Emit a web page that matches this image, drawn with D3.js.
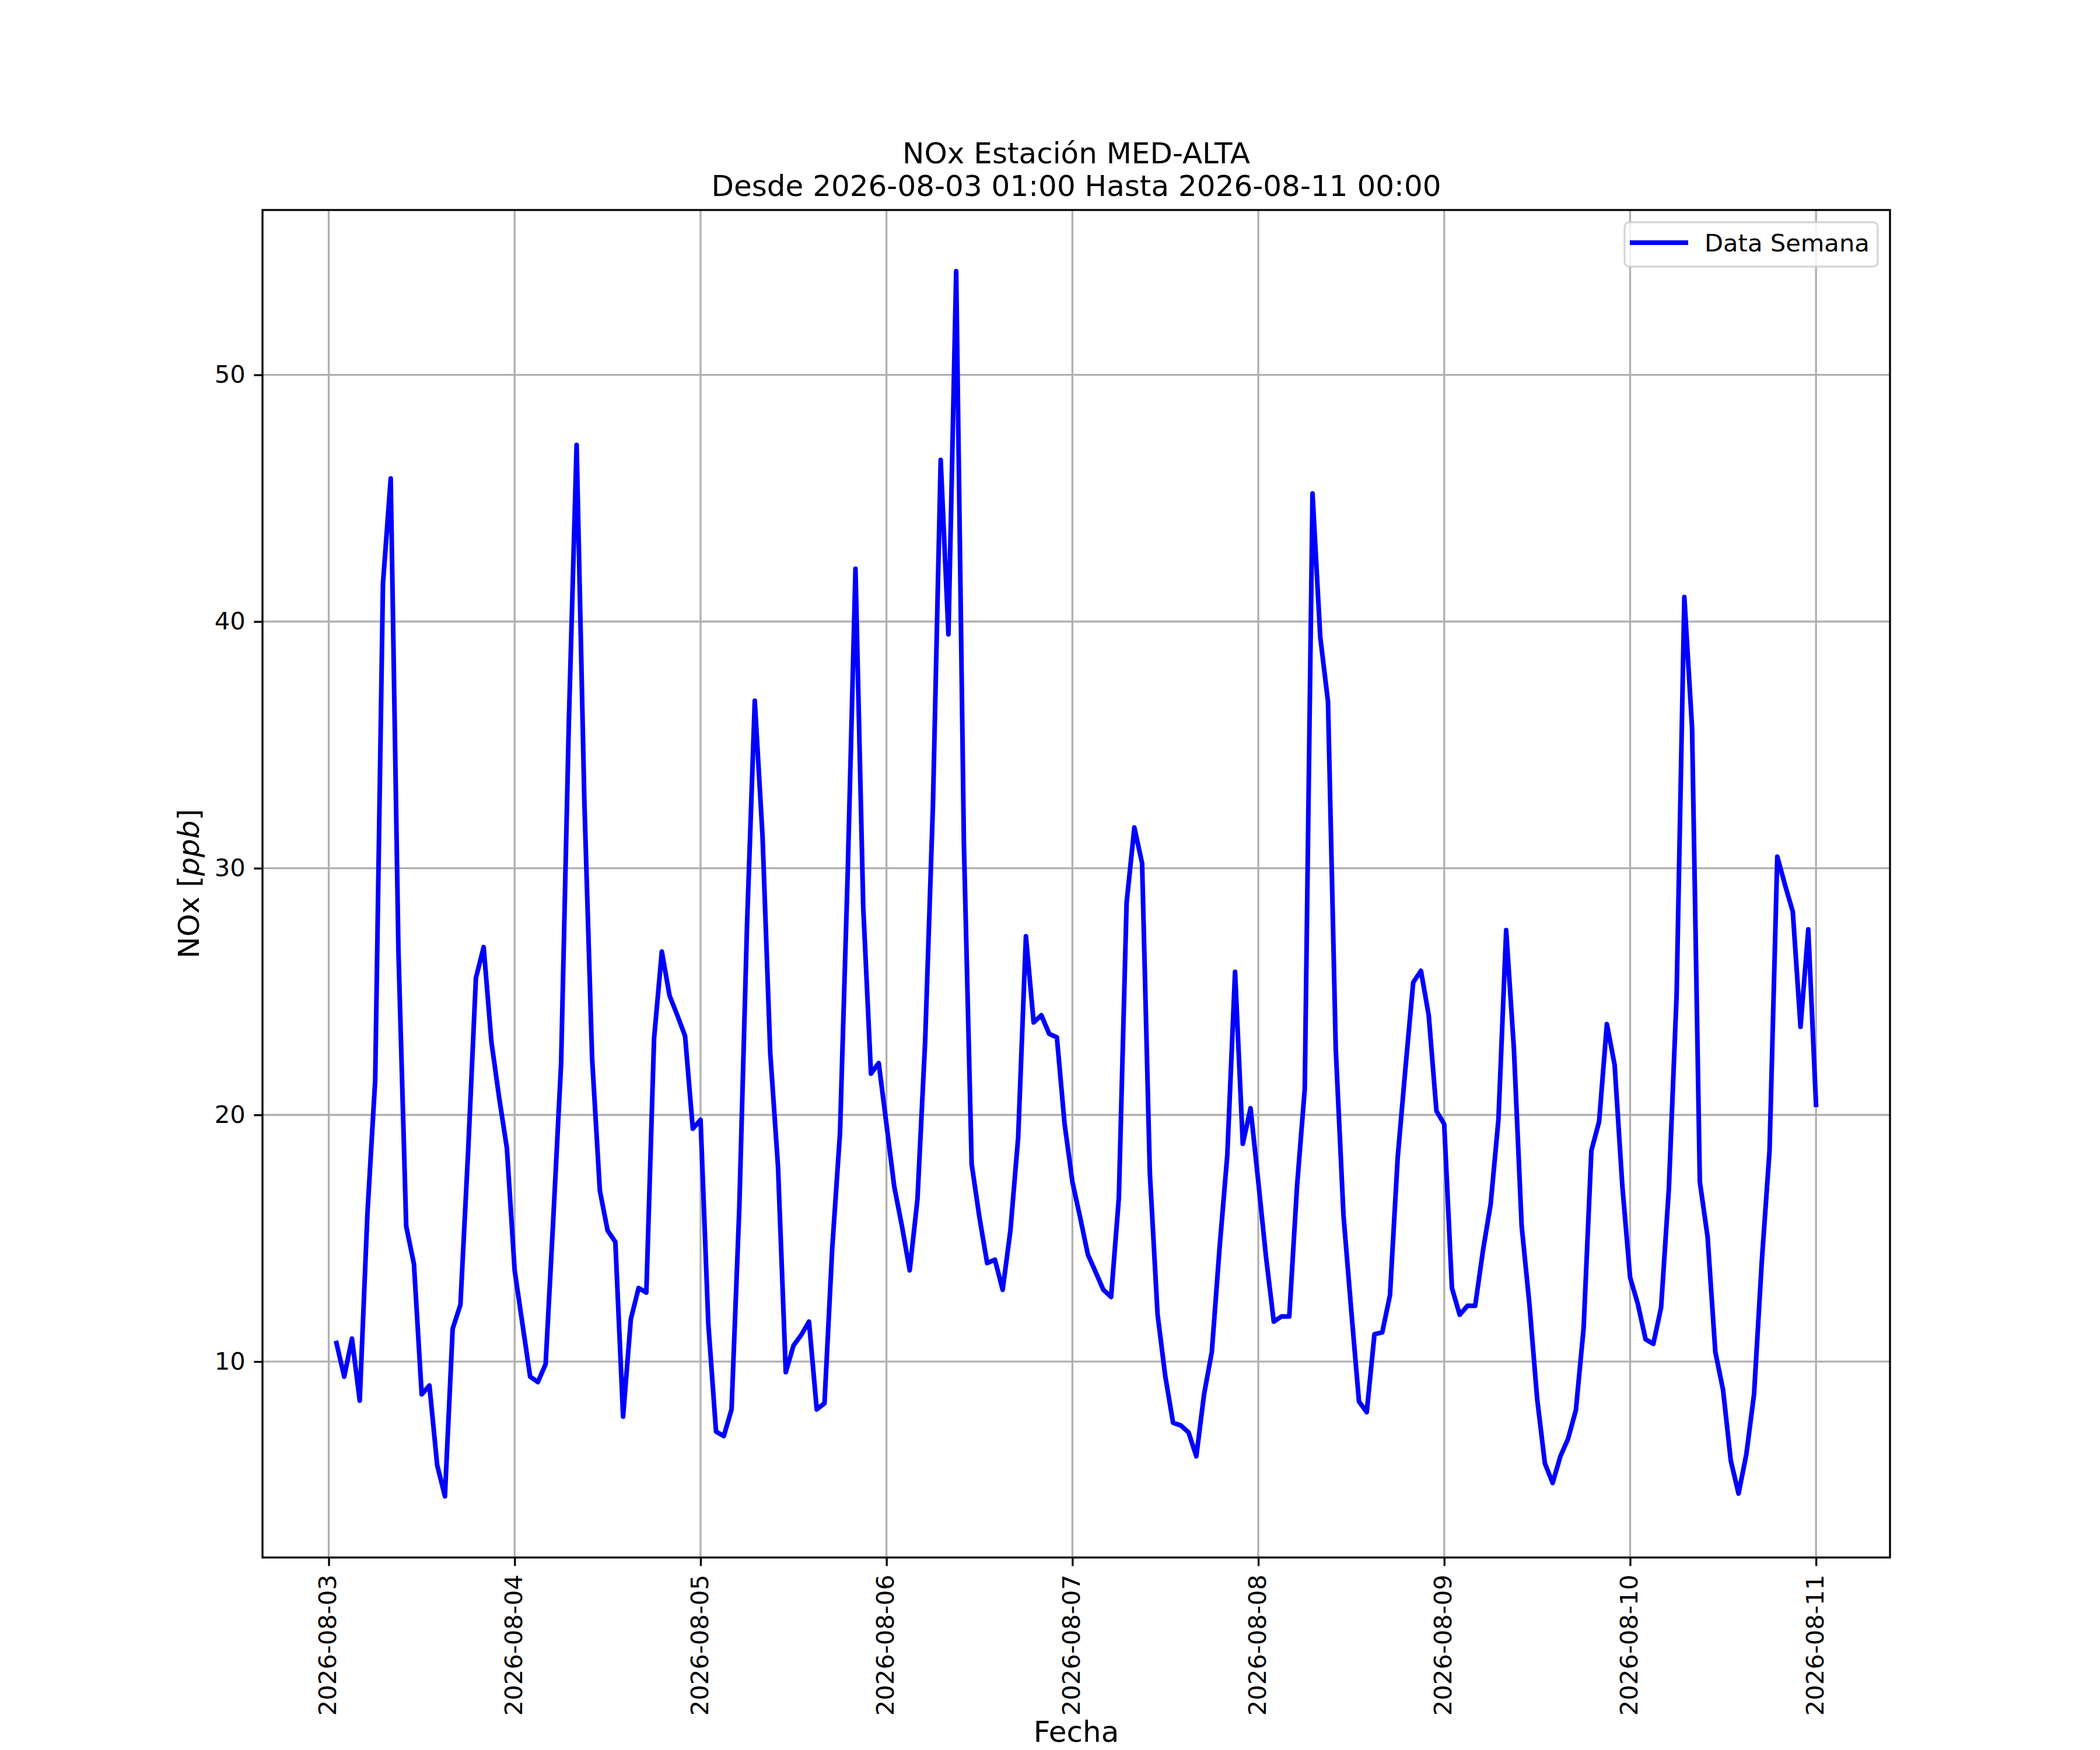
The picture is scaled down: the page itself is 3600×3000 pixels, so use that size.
<!DOCTYPE html>
<html>
<head>
<meta charset="utf-8">
<script src="https://cdn.jsdelivr.net/npm/d3@7"></script>
<style>
  html, body { margin: 0; padding: 0; background: #ffffff; }
  svg { display: block; font-family: "DejaVu Sans", sans-serif; }
</style>
</head>
<body>
<svg id="chart" width="3600" height="3000"></svg>
<script>
// ---- Data (hourly NOx, ppb) ----
const startTime = "2026-08-03T01:00:00Z";   // first sample
const day03 = [10.75, 9.39, 10.93, 8.42, 16.03, 21.42, 41.53, 45.8, 26.62, 15.49, 13.95, 8.67, 9.03, 5.8, 4.54, 11.33, 12.3, 18.55, 25.55, 26.8, 22.96, 20.7, 18.65];
const day04 = [13.7, 11.54, 9.39, 9.17, 9.9, 15.85, 22.1, 35.96, 47.16, 32.7, 22.3, 16.93, 15.31, 14.85, 7.77, 11.72, 12.98, 12.8, 23.1, 26.62, 24.83, 24.04, 23.2, 19.44];
const day05 = [19.8, 11.54, 7.16, 6.98, 8.06, 16.2, 27.7, 36.79, 31.3, 22.5, 17.9, 9.57, 10.65, 11.08, 11.62, 8.06, 8.31, 14.6, 19.26, 29.86, 42.14, 28.42, 21.67, 22.1];
const day06 = [19.62, 17.1, 15.49, 13.7, 16.57, 23.03, 32.55, 46.55, 39.48, 54.2, 30.93, 18.0, 15.85, 13.99, 14.13, 12.91, 15.31, 19.08, 27.24, 23.75, 24.04, 23.29, 23.14, 19.62];
const day07 = [17.29, 15.85, 14.34, 13.63, 12.91, 12.62, 16.64, 28.6, 31.65, 30.2, 17.65, 11.9, 9.39, 7.52, 7.41, 7.13, 6.16, 8.67, 10.39, 14.6, 18.37, 25.8, 18.83, 20.27];
const day08 = [17.29, 14.24, 11.62, 11.83, 11.83, 17.1, 21.06, 45.19, 39.37, 36.75, 22.67, 15.92, 12.08, 8.38, 7.95, 11.11, 11.18, 12.69, 18.29, 21.9, 25.37, 25.84, 24.04, 20.16];
const day09 = [19.62, 12.98, 11.9, 12.26, 12.26, 14.49, 16.39, 19.8, 27.49, 22.67, 15.49, 12.33, 8.49, 5.87, 5.08, 6.16, 6.88, 8.03, 11.36, 18.55, 19.73, 23.68, 22.03, 17.1];
const day10 = [13.41, 12.33, 10.9, 10.72, 12.19, 17.0, 24.83, 40.99, 35.67, 17.29, 15.06, 10.39, 8.85, 5.98, 4.65, 6.23, 8.67, 14.06, 18.55, 30.47, 29.32, 28.24, 23.57, 27.52];
const day11 = [20.41];
const yTicks = [10, 20, 30, 40, 50];
const seriesName = "Data Semana";
const titleLines = ["NOx Estación MED-ALTA", "Desde 2026-08-03 01:00 Hasta 2026-08-11 00:00"];
const xLabel = "Fecha";

// ---- Build series ----
const values = [].concat(day03, day04, day05, day06, day07, day08, day09, day10, day11);
const t0 = new Date(startTime);
const data = values.map((v, i) => ({ t: d3.utcHour.offset(t0, i), v }));

// ---- Layout ----
const svg = d3.select("#chart");
const L = 450, R = 3240, T = 360, B = 2670;
const fs = 41.67, fsBig = 50;

const tExt = d3.extent(data, d => d.t);
const tSpan = tExt[1] - tExt[0];
const x = d3.scaleUtc()
  .domain([new Date(+tExt[0] - 0.05 * tSpan), new Date(+tExt[1] + 0.05 * tSpan)])
  .range([L, R]);
const vExt = d3.extent(data, d => d.v);
const vSpan = vExt[1] - vExt[0];
const y = d3.scaleLinear()
  .domain([vExt[0] - 0.05 * vSpan, vExt[1] + 0.05 * vSpan])
  .range([B, T]);

const xTicks = d3.utcDay.range(d3.utcDay.ceil(x.domain()[0]), x.domain()[1]);

svg.append("rect").attr("x", 0).attr("y", 0).attr("width", 3600).attr("height", 3000).attr("fill", "#ffffff");

// grid
const grid = svg.append("g").attr("stroke", "#b0b0b0").attr("stroke-width", 3.33);
grid.selectAll("line.gx").data(xTicks).join("line")
  .attr("x1", d => x(d)).attr("x2", d => x(d)).attr("y1", T).attr("y2", B);
grid.selectAll("line.gy").data(yTicks).join("line")
  .attr("x1", L).attr("x2", R).attr("y1", d => y(d)).attr("y2", d => y(d));

// line
const lineGen = d3.line().x(d => x(d.t)).y(d => y(d.v));
svg.append("path").datum(data)
  .attr("d", lineGen)
  .attr("fill", "none")
  .attr("stroke", "#0000ff")
  .attr("stroke-width", 8)
  .attr("stroke-linejoin", "round")
  .attr("stroke-linecap", "square");

// axes
const xAxis = svg.append("g").attr("transform", `translate(0,${B})`)
  .call(d3.axisBottom(x).tickValues(xTicks).tickFormat(d3.utcFormat("%Y-%m-%d")).tickSize(14.6).tickPadding(14.6).tickSizeOuter(0));
xAxis.select(".domain").remove();
xAxis.selectAll(".tick line").attr("stroke", "#000").attr("stroke-width", 3.33);
xAxis.selectAll(".tick text")
  .attr("font-family", "DejaVu Sans").attr("font-size", fs).attr("fill", "#000")
  .attr("transform", "rotate(-90)")
  .attr("x", -29.2).attr("y", 0).attr("dy", "0.29em")
  .style("text-anchor", "end");

const yAxis = svg.append("g").attr("transform", `translate(${L},0)`)
  .call(d3.axisLeft(y).tickValues(yTicks).tickFormat(d3.format("d")).tickSize(14.6).tickPadding(14.6).tickSizeOuter(0));
yAxis.select(".domain").remove();
yAxis.selectAll(".tick line").attr("stroke", "#000").attr("stroke-width", 3.33);
yAxis.selectAll(".tick text")
  .attr("font-family", "DejaVu Sans").attr("font-size", fs).attr("fill", "#000");

// spines
svg.append("rect").attr("x", L).attr("y", T).attr("width", R - L).attr("height", B - T)
  .attr("fill", "none").attr("stroke", "#000").attr("stroke-width", 3.33);

// title
svg.append("g").selectAll("text").data(titleLines).join("text")
  .attr("x", (L + R) / 2).attr("y", (d, i) => 280 + i * 56)
  .attr("text-anchor", "middle").attr("font-size", fsBig).attr("fill", "#000")
  .text(d => d);

// axis labels
svg.append("text").attr("x", (L + R) / 2).attr("y", 2986)
  .attr("text-anchor", "middle").attr("font-size", fsBig).attr("fill", "#000").text(xLabel);

const yl = svg.append("text")
  .attr("transform", `translate(341,${(T + B) / 2}) rotate(-90)`)
  .attr("text-anchor", "middle").attr("font-size", fsBig).attr("fill", "#000");
yl.append("tspan").text("NOx [");
yl.append("tspan").attr("font-style", "italic").text("ppb");
yl.append("tspan").text("]");

// legend
const lg = svg.append("g");
lg.append("rect").attr("x", 2785).attr("y", 381).attr("width", 434).attr("height", 76).attr("rx", 8)
  .attr("fill", "#ffffff").attr("fill-opacity", 0.8)
  .attr("stroke", "#cccccc").attr("stroke-opacity", 0.8).attr("stroke-width", 3.33);
lg.append("line").attr("x1", 2798).attr("x2", 2890).attr("y1", 416).attr("y2", 416)
  .attr("stroke", "#0000ff").attr("stroke-width", 8).attr("stroke-linecap", "square");
lg.append("text").attr("x", 2922).attr("y", 431).attr("font-size", fs).attr("fill", "#000").text(seriesName);
</script>
</body>
</html>
